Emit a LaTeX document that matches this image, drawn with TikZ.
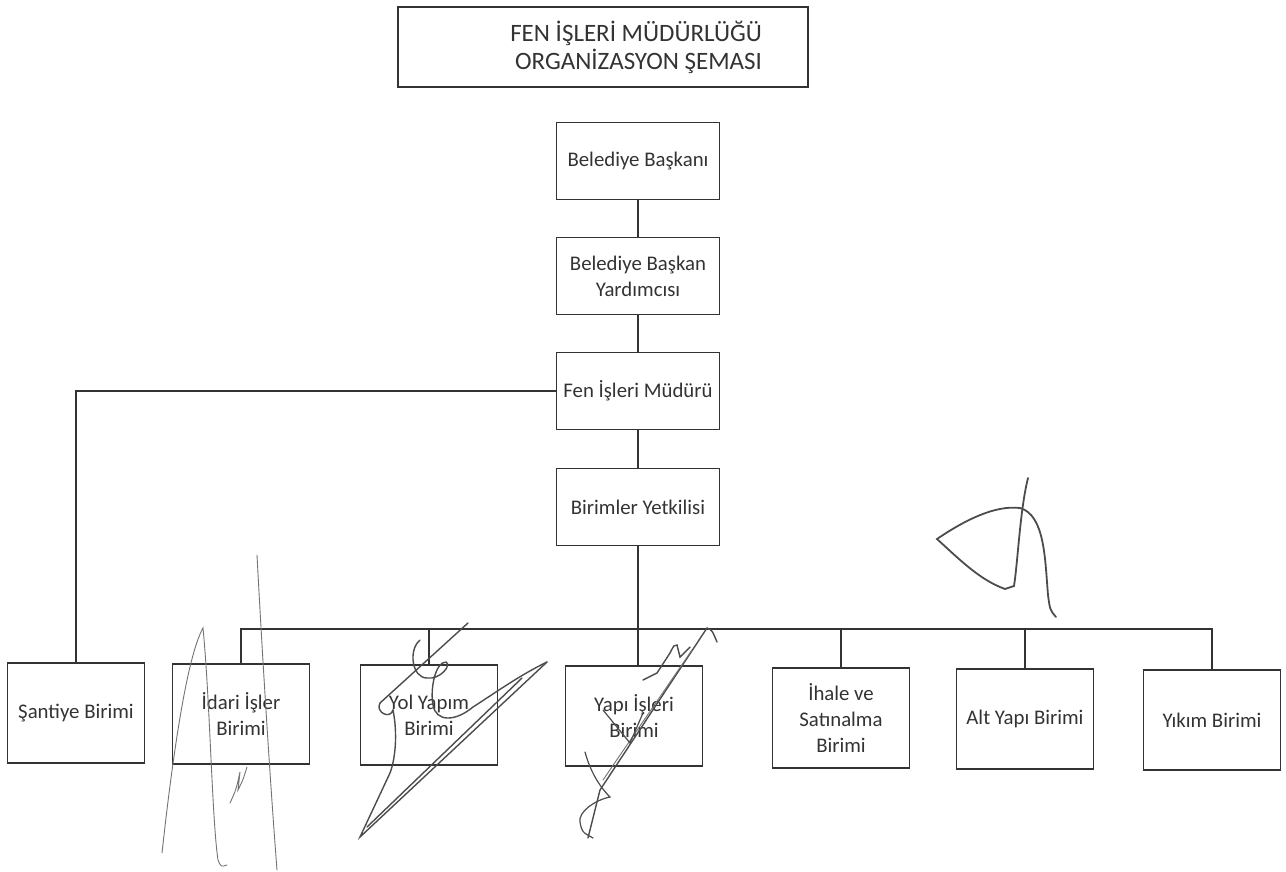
\documentclass[tikz,border=0pt]{standalone}
\usepackage{fontspec}
\setmainfont{Carlito}
\usepackage{tikz}
\tikzset{
  box/.style={rectangle,draw=black!80,line width=0.9pt,text=black!80,align=center,
    font=\fontsize{10.4}{13}\selectfont,inner sep=2pt},
  chainbox/.style={box,minimum width=81.5pt,minimum height=38.5pt},
  unitbox/.style={box,minimum width=68.5pt,minimum height=50pt},
  link/.style={draw=black!80,line width=0.9pt},
  sig/.style={draw=black!70,line width=0.9pt,line cap=round},
  sigthin/.style={draw=black!55,line width=0.45pt,line cap=round}
}

\begin{document}
\begin{tikzpicture}[x=0.5pt,y=-0.5pt]
\useasboundingbox (0,0) rectangle (1286,872);

%title
\node[box,align=flush right,text width=159pt,inner xsep=23pt,minimum height=40pt,
  font=\fontsize{12.5}{14}\selectfont] (title) at (603,47) {FEN İŞLERİ MÜDÜRLÜĞÜ\\ORGANİZASYON ŞEMASI};

%chain
\node[chainbox] (baskan) at (638,161) {Belediye Başkanı};
\node[chainbox] (yard) at (638,276) {Belediye Başkan\\Yardımcısı};
\node[chainbox] (fen) at (638,391) {Fen İşleri Müdürü};
\node[chainbox] (birim) at (638,507) {Birimler Yetkilisi};

%units
\node[unitbox] (santiye) at (76,713) {Şantiye Birimi};
\node[unitbox] (idari) at (241,714) {İdari İşler\\Birimi};
\node[unitbox] (yol) at (429,715) {Yol Yapım\\Birimi};
\node[unitbox] (yapi) at (634,716) {Yapı İşleri\\Birimi};
\node[unitbox] (ihale) at (841,718) {İhale ve\\Satınalma\\Birimi};
\node[unitbox] (alt) at (1025,719) {Alt Yapı Birimi};
\node[unitbox] (yikim) at (1212,720) {Yıkım Birimi};

%lines
\draw[link] (baskan) -- (yard);
\draw[link] (yard) -- (fen);
\draw[link] (fen) -- (birim);
\draw[link] (fen.west) -| (santiye.north);
\draw[link] (birim.south) -- (birim.south |- yapi.north);
\coordinate (bus) at (638,629);
\draw[link] (idari.north) |- (bus) -| (yikim.north);
\foreach \n in {yol,ihale,alt} {
\draw[link] (\n.north) -- (\n.north |- bus);
}

%signatures
\draw[sig] (1028,478) .. controls (1020,510) and (1018,560) .. (1014,586) -- (1005,589)
  .. controls (980,580) and (960,560) .. (937,539) .. controls (965,520) and (995,505) .. (1020,508)
  .. controls (1045,515) and (1045,560) .. (1048,595) .. controls (1050,610) .. (1056,617);
\draw[sigthin] (162,853) .. controls (170,780) and (185,660) .. (203,628)
  .. controls (210,700) and (212,820) .. (218,860) .. controls (221,867) .. (227,865);
\draw[sigthin] (257,555) .. controls (262,650) and (270,780) .. (277,870);
\draw[sigthin] (230,803) .. controls (236,790) .. (240,772) -- (238,790) .. controls (243,780) .. (247,767);
\draw[sig,line width=0.7pt] (468,623) -- (380,703);
\draw[sig,line width=0.7pt] (380,703) .. controls (375,712) and (390,720) .. (393,710)
  .. controls (398,735) and (395,760) .. (390,773) -- (360,837) -- (547,662);
\draw[sig,line width=0.7pt] (367,827) -- (522,678);
\draw[sig,line width=0.7pt] (420,640) .. controls (408,650) and (412,678) .. (427,678)
  .. controls (440,680) and (452,665) .. (446,662) .. controls (435,662) and (430,690) .. (433,705)
  .. controls (436,722) and (455,722) .. (473,707) .. controls (495,693) and (520,675) .. (547,662);
\draw[sig,line width=0.7pt] (707,628) -- (600,790) -- (588,838);
\draw[sigthin] (692,650) -- (603,780);
\draw[sig,line width=0.7pt] (643,680) .. controls (650,676) .. (657,673) -- (670,653)
  .. controls (674,645) .. (677,645) -- (680,657) -- (690,647);
\draw[sig,line width=0.7pt] (707,628) .. controls (712,630) .. (717,642);
\draw[sig,line width=0.6pt] (585,752) .. controls (590,770) and (598,785) .. (610,797)
  .. controls (595,800) and (578,812) .. (580,822) .. controls (582,832) .. (593,838);
\draw[sig,line width=0.6pt] (603,710) -- (630,743) -- (643,713);
\end{tikzpicture}
\end{document}
